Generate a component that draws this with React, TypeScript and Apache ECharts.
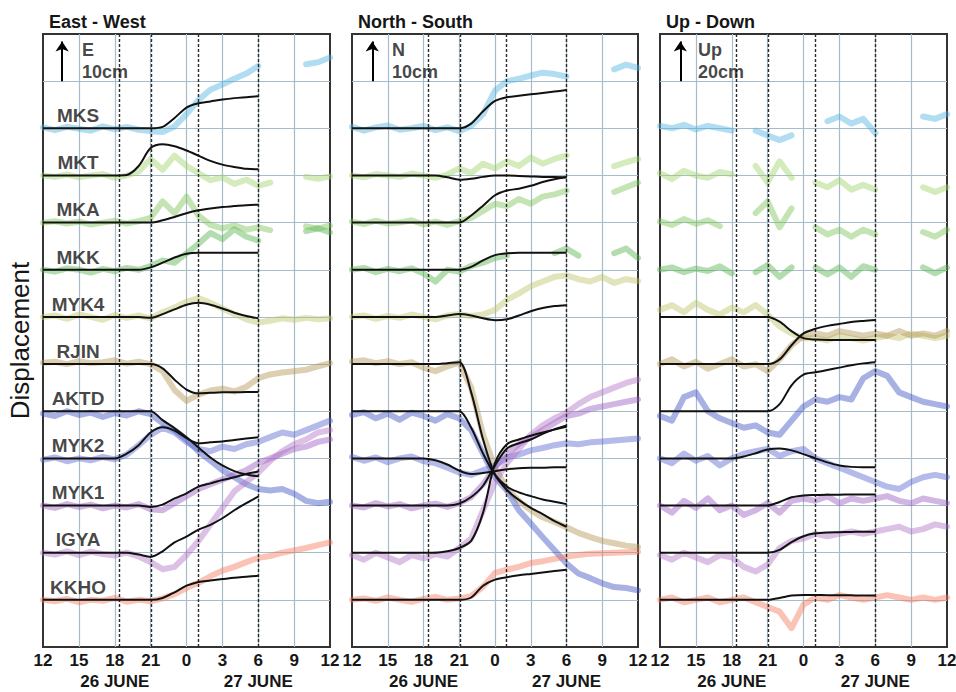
import React, { useEffect, useRef } from 'react';
import * as echarts from 'echarts';

// ---------- data ----------
const STATIONS = ['MKS', 'MKT', 'MKA', 'MKK', 'MYK4', 'RJIN', 'AKTD', 'MYK2', 'MYK1', 'IGYA', 'KKHO'];
const STATION_COLORS = ['#4fb3e3', '#9fd26a', '#7cc456', '#56b44e', '#bfc46a', '#b39455', '#3f52c4', '#5866cf', '#9a5bc0', '#b173c6', '#f47a5a'];
const PANEL_TITLES = ['East - West', 'North - South', 'Up - Down'];
const ARROW_TEXTS = ['E\n10cm', 'N\n10cm', 'Up\n20cm'];
const CM_PER_ROW = [10, 10, 20];
// hours since 26 June 12:00
const HOUR_TICKS = ['12', '15', '18', '21', '0', '3', '6', '9', '12'];
const DATE_TICKS: Record<number, string> = { 6: '26 JUNE', 18: '27 JUNE' };
const EVENT_HOURS = [6.4, 9.05, 12.95, 18];
const OBS_HOURS = [0, 1, 2, 3, 4, 5, 6, 7, 8, 9, 10, 11, 12, 13, 14, 15, 16, 17, 18, 19, 20, 21, 22, 23, 24];
const MODEL_HOURS = [0, 1, 2, 3, 4, 5, 6, 7, 8, 9, 10, 11, 12, 13, 14, 15, 16, 17, 18];

type Row = (number | null)[];

// observed displacement (cm), rows in STATIONS order
const EW_OBS: Row[] = [
  [0.2, -0.4, 0.3, -0.1, -0.5, 0.4, -0.2, 0.3, -0.3, -0.6, -0.8, 0.4, 3.0, 6.0, 8.2, 9.3, 10.5, 11.6, 13.2, null, null, null, 13.6, 14.0, 15.0],
  [0, -0.3, 0.2, -0.4, 0, 0.3, -0.5, 0, 0.8, 3.5, 1.2, 4.2, 2.0, 0.5, -1.0, -0.4, -1.8, -0.9, -2.2, -1.5, null, null, -0.3, -0.7, -0.2],
  [0, 0.3, -0.2, 0.2, -0.4, 0, 0.4, -0.2, 0.3, 1.0, 4.5, 2.0, 5.5, 1.5, -0.5, -1.2, -0.6, -1.5, -1.0, -1.6, null, null, -0.8, -1.3, -0.6],
  [0, -0.4, 0.3, 0, -0.6, 0.2, -0.3, 0.4, 0, 0.8, 2.0, 1.5, 3.5, 5.5, 7.8, 6.5, 8.6, 7.0, 6.2, null, null, null, 8.2, 8.8, 7.9],
  [0, 0.3, -0.4, 0.5, 0, -0.6, 0.4, -0.2, 0.3, -0.3, 1.0, 2.0, 3.2, 4.0, 3.0, 1.8, 0.6, -0.5, -1.2, -0.8, -0.3, -0.6, -0.2, -0.5, -0.3],
  [0.3, 0.5, 0, 0.6, 0.2, 0.4, 0.8, 0.1, 0.5, 0, -1.5, -5.5, -7.8, -6.5, -5.6, -5.2, -5.8, -4.8, -3.0, -2.2, -1.8, -1.5, -1.2, -0.5, 0.2],
  [-0.5, -1.0, 0, -0.8, -0.3, -1.2, -0.4, -0.9, 0, -0.6, -2.5, -4.0, -6.0, -8.5, -10.5, -12.5, -14.0, -15.5, -16.5, -16.8, -16.5, -17.5, -19.0, -19.5, -19.2],
  [-0.3, 0.2, -0.6, 0, -0.4, 0.3, -0.2, 0.8, 2.8, 5.0, 6.5, 5.5, 3.5, 2.0, 1.5, 2.5, 2.0, 3.0, 3.5, 4.5, 5.5, 5.0, 6.0, 7.0, 8.0],
  [0, -0.5, 0.3, -0.3, 0.2, -0.6, 0, -0.4, 0.3, -0.8, -1.0, 0.5, 2.0, 3.5, 4.5, 5.5, 6.5, 7.5, 9.0, 10.0, 11.0, 12.0, 12.5, 13.5, 14.0],
  [0, -0.4, 0.3, -0.5, 0.2, -0.3, -0.6, 0, -0.8, -2.0, -3.5, -3.0, -0.5, 2.5, 6.0, 9.5, 13.0, 15.0, 17.0, 19.5, 21.5, 23.0, 24.0, 25.5, 26.0],
  [0, -0.3, 0.2, -0.5, 0, -0.2, 0.4, -0.4, 0, -0.3, 0.3, 1.2, 2.5, 3.6, 5.0, 6.2, 7.0, 8.0, 8.9, 9.3, 10.0, 10.5, 11.0, 11.6, 12.2],
];
const NS_OBS: Row[] = [
  [0.3, -0.5, 0.2, 0.6, -0.3, 0, 0.5, -0.4, 0.2, -0.6, 0.5, 3.0, 8.0, 10.0, 10.5, 11.2, 11.8, 11.5, 11.0, null, null, null, 12.5, 13.5, 12.8],
  [0, -0.4, 0.3, 0, -0.3, 0.4, 0, -0.5, 0.2, 1.5, 0.5, 2.5, 1.5, 3.0, 2.0, 3.8, 2.5, 3.5, 4.2, null, null, null, 2.0, 2.8, 3.5],
  [0.2, -0.3, 0.4, -0.2, 0, 0.5, -0.4, 0.2, -0.5, 0.3, 1.0, 2.5, 4.0, 3.5, 5.0, 4.0, 5.5, 6.0, 6.8, null, null, null, 6.5, 7.5, 8.5],
  [0, 0.4, -0.5, 0.2, -0.3, 0.3, -0.8, -2.5, 0, -0.4, 0.8, 1.5, 2.5, 3.0, null, null, null, 3.5, 4.5, 3.0, null, null, 3.5, 4.5, 2.5],
  [0, 0.3, -0.4, 0.2, -0.2, 0.5, 0, -0.5, 0.3, 0.6, 0.2, 0.5, 1.5, 3.6, 5.0, 6.5, 7.5, 8.5, 8.8, 8.0, 7.5, 8.5, 7.2, 8.0, 7.6],
  [0.5, 0.8, 0.2, 0.6, 0, 0.4, -0.8, -1.5, -0.5, 0.3, -5, -15, -22, -26.5, -29, -31, -32.5, -33.5, -34.6, -35.8, -36.7, -37.5, -38, -38.5, -38.8],
  [-0.8, -0.2, -1.5, -0.5, -1.8, -0.3, -1.0, -2.0, -0.6, -1.5, -4, -9, -14, -16.8, -21, -23.8, -26.7, -29.5, -32.3, -34.4, -35.4, -36.5, -37.3, -37.5, -38],
  [0.3, -0.5, 0.2, -0.8, 0, 0.4, -0.6, -1.0, -2.0, -3.0, -3.5, -2.5, -1.5, 0.2, 0.8, 1.7, 2.2, 2.8, 3.2, 3.0, 3.4, 3.6, 3.8, 4.0, 4.2],
  [0, -0.4, 0.5, -0.2, 0.3, -0.6, 0, 0.4, -0.3, 0.5, 1.8, 4.5, 8.0, 11.0, 13.0, 14.5, 16.0, 17.5, 19.0, 19.5, 20.5, 21.0, 21.5, 22.0, 22.5],
  [-0.5, -1.5, 0, -1.0, -2.0, -0.5, -1.2, -0.3, -0.8, 1.0, 3.0, 9.0, 15.0, 19.0, 22.0, 25.0, 27.0, 28.5, 29.7, 31.5, 33.0, 34.0, 35.0, 36.0, 36.7],
  [0, 0.3, -0.2, 0.5, 0, -0.4, 0.2, 0.6, 0, 0.3, 0.8, 2.8, 5.7, 6.4, 7.0, 7.8, 8.2, 8.7, 9.2, 9.5, 9.8, 9.9, 10.0, 10.1, 10.2],
];
const UD_OBS: Row[] = [
  [1, 0, 1.5, -0.5, 1, 0, -1, null, -1, -3, -5, -3, null, null, 3, 5, 2, 4, -2, null, null, null, 5, 4, 6],
  [1, -1.5, 2, 0, -1, 1.5, 0.5, null, 4, -3, 6, -1, null, -3, -5, -2, -6, -4, -6, null, null, null, -5, -7, -5],
  [0.5, -1, 1.5, -0.5, 1, -1.5, null, null, 4, 9, -2, 6, null, -2, -5, -3, -6, -3, -5, null, null, null, -4, -6, -3],
  [0, 1, -1, 0.5, -0.5, 1.5, -1.5, null, -1, 2, -3, 1, null, 1, -2, 1, -3, 1.5, 0, null, null, null, 1, -1.5, 1],
  [3, 5, 2, 6, 3, 1, 4, 2, 5, 1, -4, -7, -9, -9, -10, -8, -9, -10, -9, -8, -9, -7, -8, -9, -8],
  [0, 2, -1, 1, -2, 0, 2, -1, 0, -3, 2, 8, 12, 13, 12, 14, 13, 12, 13, 12, 14, 12, 13, 12, 14],
  [-2, -4, 6, 8, 0, -3, -5, -7, -6, -9, -10, -4, 2, 5, 4, 6, 5, 14, 17, 15, 8, 6, 4, 3, 2],
  [0, -2, 2, -1, 1, -3, 0, 2, 3, 4, 1, 3, 4, 0, -2, -4, -6, -8, -10, -12, -13, -10, -8, -7, -8],
  [0, -3, 2, -1, 3, -2, 0, -4, -2, 1, -3, 2, 3, 2, 4, 1, 3, 2, 3, 4, 2, 1, 3, 2, 1],
  [-1, -3, 0, -2, -4, -1, -2, -6, -8, -5, 2, 5, 6, 8, 7, 8, 9, 8, 9, 10, 11, 9, 10, 12, 11],
  [0, 1, -1, 0, 1, -1, 0, 1, -1, -3, -5, -12, -2, 1, 0, 2, 1, 0, 1, 2, 1, 0, 1, 0, 1],
];

// model displacement (cm), 12:00 to 06:00
const EW_MODEL: (Row | null)[] = [
  [0, 0, 0, 0, 0, 0, 0, 0, 0, 0, 0.3, 2.2, 4.4, 5.3, 5.7, 6.1, 6.4, 6.6, 6.8],
  [0, 0, 0, 0, 0, 0, 0, 0.1, 2.0, 5.8, 6.6, 6.2, 5.3, 4.2, 3.1, 2.3, 1.8, 1.4, 1.3],
  [0, 0, 0, 0, 0, 0, 0, 0, 0, 0, 0.5, 1.2, 2.0, 2.6, 3.0, 3.3, 3.5, 3.7, 3.8],
  [0, 0, 0, 0, 0, 0, 0, 0, 0, 0.5, 1.5, 2.6, 3.4, 3.6, 3.6, 3.6, 3.6, 3.6, 3.6],
  [0, 0, 0, 0, 0, 0, 0, 0, 0, -0.2, 0.6, 1.6, 2.6, 3.0, 2.6, 1.8, 0.9, 0.2, -0.3],
  [0, 0, 0, 0, 0, 0, 0, 0, 0, 0, -0.9, -3.3, -5.4, -6.2, -6.1, -6.0, -6.0, -5.9, -5.9],
  [0, 0, 0, 0, 0, 0, 0, 0, 0, 0, -1.9, -3.6, -5.5, -7.7, -9.8, -11.5, -12.7, -13.4, -13.8],
  [0, 0, 0, 0, 0, 0, 0, 1.0, 2.8, 5.5, 6.6, 5.9, 4.3, 3.2, 3.4, 3.6, 3.9, 4.2, 4.5],
  [0, 0, 0, 0, 0, 0, 0, 0, 0, -0.3, 0.2, 1.5, 2.6, 4.0, 4.7, 5.4, 6.0, 6.7, 7.2],
  [0, 0, 0, 0, 0, 0, 0, 0, -0.4, -0.9, 0.3, 2.2, 3.4, 4.9, 5.9, 7.3, 9.0, 10.5, 11.9],
  [0, 0, 0, 0, 0, 0, 0, 0, 0, 0, 0.4, 1.6, 3.0, 3.8, 4.1, 4.4, 4.7, 4.9, 5.1],
];
const NS_MODEL: (Row | null)[] = [
  [0, 0, 0, 0, 0, 0, 0, 0, 0, 0, 1.0, 3.6, 5.8, 6.6, 6.9, 7.2, 7.5, 7.8, 8.1],
  [0, 0, 0, 0, 0, 0, 0, 0, -0.4, -0.9, -0.7, -0.3, 0, 0, -0.1, -0.2, -0.3, -0.3, -0.4],
  [0, 0, 0, 0, 0, 0, 0, 0, 0, 0, 1.5, 3.6, 5.8, 6.8, 7.2, 7.8, 8.6, 9.2, 9.6],
  [0, 0, 0, 0, 0, 0, 0, 0, 0, 0, 0.6, 2.0, 3.1, 3.5, 3.6, 3.6, 3.6, 3.6, 3.6],
  [0, 0, 0, 0, 0, 0, 0, 0, 0.3, 0.6, 0.3, -0.3, -0.7, -0.5, 0.3, 1.2, 1.9, 2.3, 2.5],
  [0, 0, 0, 0, 0, 0, 0, 0, 0.2, 0.4, -6, -16, -23.5, -26.7, -28.8, -30.5, -31.8, -33.3, -34.5],
  [0, 0, 0, 0, 0, 0, 0, 0, 0, 0, -3.5, -9, -13.5, -16, -17.2, -18, -18.7, -19.2, -19.7],
  [0, 0, 0, 0, 0, 0, 0, -0.4, -1.3, -2.6, -3.3, -3.1, -2.7, -2.3, -2.1, -2.0, -2.0, -1.9, -1.9],
  [0, 0, 0, 0, 0, 0, 0, 0, 0, 0.4, 1.8, 4.2, 8.5, 12.1, 13.2, 14.0, 15.2, 16.2, 17.0],
  [0, 0, 0, 0, 0, 0, 0, 0, 0.3, 1.0, 2.5, 8.5, 19, 23, 24, 24.8, 25.5, 26.1, 26.7],
  [0, 0, 0, 0, 0, 0, 0, 0, 0, 0, 0.5, 3.0, 4.3, 4.8, 5.2, 5.5, 5.8, 6.1, 6.4],
];
const UD_MODEL: (Row | null)[] = [
  null,
  null,
  null,
  null,
  [0, 0, 0, 0, 0, 0, 0, 0, 0, 0, -2, -6, -9, -9.6, -9.8, -9.8, -9.8, -9.8, -9.8],
  [0, 0, 0, 0, 0, 0, 0, 0, 0, 0, 2, 8, 13, 15, 16.2, 17, 17.8, 18.3, 18.7],
  [0, 0, 0, 0, 0, 0, 0, 0, 0, 0, 3, 11, 15.5, 16.5, 17.5, 18.5, 19.5, 20.3, 20.8],
  [0, 0, 0, 0, 0, 0, 0, 0.8, 2.2, 3.8, 4.2, 3.4, 1.8, 0, -1.7, -3, -3.6, -3.8, -3.8],
  [0, 0, 0, 0, 0, 0, 0, 0, 0, 0, 1.5, 3.5, 4.3, 4.5, 4.6, 4.6, 4.7, 4.7, 4.7],
  [0, 0, 0, 0, 0, 0, 0, 0, 0, 0, 1.2, 4.5, 7, 8.2, 8.6, 8.7, 8.8, 8.9, 8.9],
  [0, 0, 0, 0, 0, 0, 0, 0, 0, 0, 0.8, 1.8, 2.1, 2.1, 2.0, 2.0, 1.9, 1.8, 1.8],
];

// ---------- layout ----------
const FONT = '"Liberation Sans", Arial, Helvetica, sans-serif';
const GRID_LEFT = [43, 352, 660];
const GRID_WIDTH = [287, 286, 287];
const GRID_TOP = 34;
const GRID_HEIGHT = 613;
const ROWS = 13;
const ARROW_X = [1.6, 1.7, 1.7];
const ARROW_TEXT_X = [3.26, 3.36, 3.18];
const LABEL_X = 2.93;
const GRID_COLOR = '#a7bccb';
const TEXT_COLOR = '#161616';

const PANELS = [
  { obs: EW_OBS, model: EW_MODEL },
  { obs: NS_OBS, model: NS_MODEL },
  { obs: UD_OBS, model: UD_MODEL },
];

function buildOption() {
  const grid: any[] = [];
  const xAxis: any[] = [];
  const yAxis: any[] = [];
  const series: any[] = [];
  const title: any[] = [];
  const n = STATIONS.length;

  PANELS.forEach((panel, p) => {
    const scale = CM_PER_ROW[p];
    grid.push({
      left: GRID_LEFT[p], top: GRID_TOP, width: GRID_WIDTH[p], height: GRID_HEIGHT,
      show: true, borderColor: '#333', borderWidth: 2, backgroundColor: '#fff',
      containLabel: false, outerBoundsMode: 'none',
    });
    title.push({
      text: PANEL_TITLES[p], left: GRID_LEFT[p] + 1, top: 8,
      textStyle: { fontSize: 18, fontWeight: 'bold', color: TEXT_COLOR, fontFamily: FONT },
    });
    xAxis.push({
      gridIndex: p, type: 'value', min: 0, max: 24, interval: 3,
      axisLine: { show: false }, axisTick: { show: false },
      splitLine: { show: true, showMinLine: false, showMaxLine: false, lineStyle: { color: GRID_COLOR, width: 1.2 } },
      axisLabel: {
        margin: 3,
        formatter: (v: number) => {
          const lab = HOUR_TICKS[Math.round(v / 3)];
          const d = DATE_TICKS[v];
          return d ? `{n|${lab}}\n{d|${d}}` : `{n|${lab}}`;
        },
        rich: {
          n: { fontSize: 17, fontWeight: 'bold', lineHeight: 20, color: TEXT_COLOR, fontFamily: FONT },
          d: { fontSize: 17, fontWeight: 'bold', lineHeight: 22, color: TEXT_COLOR, fontFamily: FONT },
        },
      },
    });
    const y: any = {
      gridIndex: p, type: 'value', min: 0, max: ROWS, interval: 1,
      axisLine: { show: false }, axisTick: { show: false }, axisLabel: { show: false },
      splitLine: { show: true, showMinLine: false, showMaxLine: false, lineStyle: { color: GRID_COLOR, width: 1.2 } },
    };
    if (p === 0) {
      y.name = 'Displacement';
      y.nameLocation = 'middle';
      y.nameGap = 10;
      y.nameRotate = 90;
      y.nameTextStyle = { fontSize: 26, color: TEXT_COLOR, fontFamily: FONT };
    }
    yAxis.push(y);

    // event (dotted) lines
    series.push({
      type: 'line', xAxisIndex: p, yAxisIndex: p, data: [], silent: true, z: 1,
      markLine: {
        silent: true, symbol: ['none', 'none'], label: { show: false },
        lineStyle: { color: '#2b2b2b', type: [3, 2], width: 1.4 },
        data: EVENT_HOURS.map((h) => ({ xAxis: h })),
      },
    });

    // observations
    STATIONS.forEach((st, i) => {
      const base = n - i;
      const row = panel.obs[i];
      series.push({
        type: 'line', name: st + ' obs', xAxisIndex: p, yAxisIndex: p,
        showSymbol: false, symbol: 'none', silent: true, z: 2,
        lineStyle: { color: STATION_COLORS[i], width: 6, opacity: 0.45, cap: 'round', join: 'round' },
        data: OBS_HOURS.map((h, k) => [h, row[k] == null ? '-' : base + (row[k] as number) / scale]),
      });
    });

    // model curves
    STATIONS.forEach((st, i) => {
      const row = panel.model[i];
      if (!row) return;
      const base = n - i;
      series.push({
        type: 'line', name: st + ' model', xAxisIndex: p, yAxisIndex: p,
        showSymbol: false, symbol: 'none', silent: true, z: 5, smooth: 0.3,
        lineStyle: { color: '#111', width: 2 },
        data: MODEL_HOURS.map((h, k) => [h, base + (row[k] as number) / scale]),
      });
    });

    // scale arrow
    series.push({
      type: 'line', xAxisIndex: p, yAxisIndex: p, data: [], silent: true, z: 6,
      markLine: {
        silent: true, symbol: ['none', 'arrow'], symbolSize: 10, label: { show: false },
        lineStyle: { color: '#000', width: 2, type: 'solid' },
        data: [[{ coord: [ARROW_X[p], ROWS - 1] }, { coord: [ARROW_X[p], ROWS - 0.16] }]],
      },
    });
    series.push({
      type: 'scatter', xAxisIndex: p, yAxisIndex: p, silent: true, symbolSize: 0, z: 6,
      data: [{ value: [ARROW_TEXT_X[p], ROWS - 0.57] }],
      label: {
        show: true, position: [0, 0], align: 'left', verticalAlign: 'middle',
        formatter: ARROW_TEXTS[p], fontSize: 18, fontWeight: 'bold', lineHeight: 22, color: TEXT_COLOR, fontFamily: FONT,
      },
    });
  });

  // station names (left panel)
  series.push({
    type: 'scatter', xAxisIndex: 0, yAxisIndex: 0, silent: true, symbolSize: 0, z: 7,
    data: STATIONS.map((s, i) => ({ name: s, value: [LABEL_X, n - i + 0.27] })),
    label: {
      show: true, position: [0, 0], align: 'center', verticalAlign: 'middle',
      formatter: '{b}', fontSize: 19, fontWeight: 'bold', color: TEXT_COLOR, fontFamily: FONT,
    },
  });

  return {
    animation: false,
    backgroundColor: '#fff',
    textStyle: { fontFamily: FONT },
    title,
    grid,
    xAxis,
    yAxis,
    series,
  };
}

export default function App() {
  const ref = useRef<HTMLDivElement>(null);
  useEffect(() => {
    if (!ref.current) return;
    const chart = echarts.init(ref.current, undefined, { renderer: 'svg' });
    chart.setOption(buildOption() as any);
    return () => chart.dispose();
  }, []);
  return (
    <div
      ref={ref}
      style={{ position: 'absolute', left: 0, top: 0, width: 956, height: 692, background: '#fff' }}
    />
  );
}
